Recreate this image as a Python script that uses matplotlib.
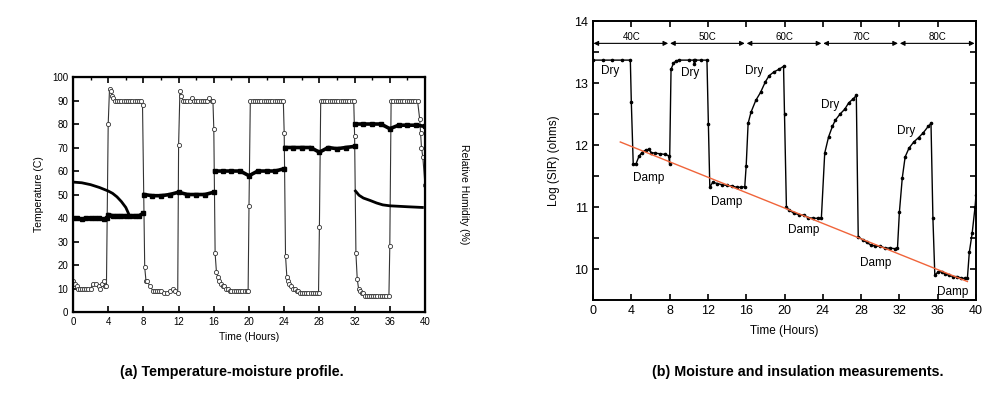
import numpy as np
import matplotlib.pyplot as plt

plt.rcParams['font.family'] = ['Liberation Sans', 'DejaVu Sans']

# ---- (a) temperature / humidity profile ----
hum_t = [0, 0.2, 0.4, 0.6, 0.8, 1.0, 1.25, 1.5, 1.75, 2.0, 2.3, 2.6, 2.9, 3.05, 3.35, 3.5, 3.6, 3.8,
         4.0, 4.15, 4.3, 4.45, 4.6, 4.8, 5.0, 5.25, 5.5, 5.75, 6.0, 6.25, 6.5, 6.75, 7.0, 7.25, 7.5, 7.75, 7.9,
         8.15, 8.3, 8.45, 8.75, 9.1, 9.3, 9.5, 9.75, 10.0, 10.3, 10.7, 11.0, 11.4, 11.6, 11.9,
         12.0, 12.15, 12.3, 12.5, 12.75, 13.0, 13.25, 13.5, 13.75, 14.0, 14.25, 14.5, 14.75, 15.0, 15.25, 15.5, 15.75, 15.9,
         16.0, 16.15, 16.3, 16.45, 16.6, 16.8, 17.0, 17.2, 17.4, 17.6, 17.8, 18.0, 18.25, 18.5, 18.75, 19.0, 19.25, 19.5, 19.75, 19.9,
         20.0, 20.15, 20.4, 20.65, 20.9, 21.15, 21.4, 21.65, 21.9, 22.15, 22.4, 22.65, 22.9, 23.15, 23.4, 23.65, 23.9,
         24.0, 24.15, 24.3, 24.45, 24.6, 24.8, 25.0, 25.2, 25.4, 25.6, 25.8, 26.0, 26.25, 26.5, 26.75, 27.0, 27.25, 27.5, 27.75, 27.9,
         28.0, 28.15, 28.4, 28.65, 28.9, 29.15, 29.4, 29.65, 29.9, 30.15, 30.4, 30.65, 30.9, 31.15, 31.4, 31.65, 31.9,
         32.0, 32.15, 32.3, 32.45, 32.6, 32.8, 33.0, 33.2, 33.4, 33.6, 33.85, 34.1, 34.35, 34.6, 34.85, 35.1, 35.35, 35.6, 35.9,
         36.0, 36.15, 36.4, 36.65, 36.9, 37.15, 37.4, 37.65, 37.9, 38.15, 38.4, 38.65, 38.9, 39.15, 39.4, 39.5, 39.6, 39.75, 40.0]
hum_v = [13, 12, 11, 10, 10, 10, 10, 10, 10, 10, 12, 12, 11, 10, 12, 13, 11, 11,
         80, 95, 94, 92, 91, 90, 90, 90, 90, 90, 90, 90, 90, 90, 90, 90, 90, 90, 88,
         19, 13, 13, 11, 9, 9, 9, 9, 9, 8, 8, 9, 10, 9, 8,
         71, 94, 92, 90, 90, 90, 90, 91, 90, 90, 90, 90, 90, 90, 90, 91, 90, 90,
         78, 25, 17, 15, 13, 12, 11, 11, 10, 10, 9, 9, 9, 9, 9, 9, 9, 9, 9, 9,
         45, 90, 90, 90, 90, 90, 90, 90, 90, 90, 90, 90, 90, 90, 90, 90, 90,
         76, 24, 15, 13, 12, 11, 10, 10, 9, 9, 8, 8, 8, 8, 8, 8, 8, 8, 8, 8,
         36, 90, 90, 90, 90, 90, 90, 90, 90, 90, 90, 90, 90, 90, 90, 90, 90,
         75, 25, 14, 10, 9, 8, 8, 7, 7, 7, 7, 7, 7, 7, 7, 7, 7, 7, 7,
         28, 90, 90, 90, 90, 90, 90, 90, 90, 90, 90, 90, 90, 90, 82, 76, 70, 66, 54]

temp_t = [0, 0.5, 1.0, 1.5, 2.0, 2.5, 3.0, 3.5, 3.9, 4.0, 4.5, 5.0, 5.5, 6.0, 6.5, 7.0, 7.5, 8.0, np.nan,
          8.1, 9.0, 10.0, 11.0, 12.0, 13.0, 14.0, 15.0, 16.0, np.nan,
          16.1, 17.0, 18.0, 19.0, 20.0, 21.0, 22.0, 23.0, 24.0, np.nan,
          24.1, 25.0, 26.0, 27.0, 28.0, 29.0, 30.0, 31.0, 32.0, np.nan,
          32.1, 33.0, 34.0, 35.0, 36.0, 37.0, 38.0, 39.0, 40.0]
temp_v = [40, 40, 39.5, 40, 40, 40, 40, 39.5, 40, 41.5, 41, 41, 41, 41, 41, 41, 41, 42, np.nan,
          50, 49.5, 49.5, 50, 51, 50, 50, 50, 51, np.nan,
          60, 60, 60, 60, 58, 60, 60, 60, 61, np.nan,
          70, 70, 70, 70, 68, 70, 69.5, 70, 70.5, np.nan,
          80, 80, 80, 80, 78, 79.5, 79.5, 79.5, 79]

dew1_t = [0, 1.0, 2.0, 3.0, 4.0, 4.5, 5.0, 5.5, 6.0, 6.3, 6.45]
dew1_v = [55.3, 55, 54.2, 53, 51.5, 50.5, 49, 47, 44.5, 42, 40.5]
dew2_t = [32.1, 32.5, 33.0, 33.75, 34.5, 35.2, 36.0, 37.0, 38.0, 39.7]
dew2_v = [51.5, 49.7, 48.5, 47.5, 46.4, 45.6, 45.2, 45.0, 44.8, 44.5]

# ---- (b) SIR measurement ----
sir_t = [0, 1, 2, 3, 3.9, 4.0, 4.2, 4.5, 4.8, 5.1, 5.5, 5.8, 6.1, 6.5, 7.0, 7.5, 7.9, 8.0,
         8.15, 8.4, 8.7, 9.0, 10.0, 10.5, 10.6, 10.7, 11.3, 11.9,
         12.05, 12.2, 12.5, 13.0, 13.5, 14.0, 14.5, 15.0, 15.5, 15.85,
         16.0, 16.2, 16.5, 17.0, 17.5, 18.0, 18.4, 18.9, 19.4, 19.9,
         20.0, 20.2, 20.5, 21.0, 21.5, 22.0, 22.5, 23.0, 23.5, 23.85,
         24.2, 24.6, 25.0, 25.3, 25.8, 26.3, 26.7, 27.2, 27.5,
         27.7, 28.2, 28.6, 29.0, 29.5, 30.0, 30.5, 31.0, 31.5, 31.8,
         32.0, 32.3, 32.6, 33.0, 33.5, 34.0, 34.5, 35.0, 35.3,
         35.5, 35.7, 36.0, 36.4, 36.8, 37.2, 37.6, 38.0, 38.4, 38.8, 39.1,
         39.3, 39.6, 39.9, 40.0]
sir_v = [13.37, 13.37, 13.37, 13.37, 13.37, 12.7, 11.7, 11.7, 11.82, 11.88, 11.92, 11.93, 11.88, 11.87, 11.86, 11.85, 11.83, 11.7,
         13.22, 13.32, 13.36, 13.37, 13.37, 13.37, 13.3, 13.37, 13.37, 13.37,
         12.34, 11.32, 11.4, 11.38, 11.36, 11.35, 11.34, 11.32, 11.32, 11.33,
         11.67, 12.35, 12.53, 12.72, 12.85, 13.02, 13.12, 13.18, 13.22, 13.27,
         12.5, 11.0, 10.95, 10.9, 10.88, 10.87, 10.83, 10.82, 10.82, 10.82,
         11.87, 12.13, 12.3, 12.4, 12.5, 12.58, 12.68, 12.75, 12.8,
         10.52, 10.47, 10.43, 10.39, 10.37, 10.37, 10.34, 10.34, 10.33, 10.34,
         10.92, 11.47, 11.81, 11.95, 12.05, 12.12, 12.2, 12.3, 12.35,
         10.82, 9.9, 9.95, 9.96, 9.92, 9.9, 9.88, 9.88, 9.86, 9.85, 9.85,
         10.27, 10.58, 11.0, 11.2]

fit_t = [2.85, 39.1]
fit_v = [12.05, 9.8]

stage_start = [0, 8, 16, 24, 32]
stage_label = ['40C', '50C', '60C', '70C', '80C']

dry_t = [0.8, 9.2, 15.9, 23.8, 31.8]
dry_v = [13.2, 13.16, 13.2, 12.65, 12.23]
damp_t = [4.2, 12.3, 20.4, 27.9, 35.9]
damp_v = [11.47, 11.08, 10.63, 10.1, 9.63]

fig = plt.figure(figsize=(10, 3.97), dpi=100)

ax1 = fig.add_axes([0.073, 0.214, 0.352, 0.592])
ax1.plot(hum_t, hum_v, color='#333333', lw=0.8, marker='o', ms=3, mfc='white', mec='#333333', mew=0.6)
ax1.plot(temp_t, temp_v, color='black', lw=2.6, marker='s', ms=2.5)
ax1.plot(dew1_t, dew1_v, color='black', lw=2)
ax1.plot(dew2_t, dew2_v, color='black', lw=2)
ax1.set_xlim(0, 40)
ax1.set_ylim(0, 100)
ax1.set_xticks(range(0, 41, 4))
ax1.set_xticks(range(0, 41, 2), minor=True)
ax1.set_yticks(range(0, 101, 10))
ax1.tick_params(direction='in', labelsize=7, length=4, width=1.2, top=True, right=True, labelright=True)
ax1.tick_params(which='minor', direction='in', length=2, width=1, top=True, bottom=False)
for s in ax1.spines.values():
    s.set_linewidth(1.6)
ax1.set_xlabel('Time (Hours)', fontsize=7.5, labelpad=4)
ax1.set_ylabel('Temperature (C)', fontsize=7.5, labelpad=6)
ax1r = ax1.twinx()
ax1r.set_ylim(0, 100)
ax1r.set_yticks([])
ax1r.set_ylabel('Relative Humidity (%)', fontsize=7.5, rotation=270, labelpad=32)

ax2 = fig.add_axes([0.593, 0.244, 0.383, 0.703])
ax2.plot(sir_t, sir_v, color='black', lw=1.0, marker='o', ms=1.6)
ax2.plot(fit_t, fit_v, color='#f0643a', lw=1.0)
for s0, lab in zip(stage_start, stage_label):
    ax2.annotate('', xy=(s0 + 0.05, 13.64), xytext=(s0 + 7.85, 13.64),
                 arrowprops=dict(arrowstyle='<|-|>', lw=0.8, color='black', mutation_scale=7,
                                 shrinkA=0, shrinkB=0))
    ax2.text(s0 + 4, 13.67, lab, ha='center', va='bottom', fontsize=7,
             bbox=dict(facecolor='white', edgecolor='none', pad=0.3))
for x, y in zip(dry_t, dry_v):
    ax2.text(x, y, 'Dry', fontsize=8.5, va='center')
for x, y in zip(damp_t, damp_v):
    ax2.text(x, y, 'Damp', fontsize=8.5, va='center', clip_on=False)
ax2.set_xlim(0, 40)
ax2.set_ylim(9.5, 14)
ax2.set_xticks(range(0, 41, 4))
ax2.set_yticks([10, 11, 12, 13, 14])
ax2.set_yticks(np.arange(9.5, 14.01, 0.5), minor=True)
ax2.tick_params(direction='in', labelsize=9, length=4, width=1.2, top=True, right=True)
ax2.tick_params(which='minor', direction='in', length=4, width=1.2, right=True)
for s in ax2.spines.values():
    s.set_linewidth(1.4)
ax2.set_xlabel('Time (Hours)', fontsize=8.5, labelpad=6)
ax2.set_ylabel('Log (SIR) (ohms)', fontsize=8.5, labelpad=10)

cap_font = ['Liberation Sans Narrow', 'Liberation Sans', 'DejaVu Sans']
fig.text(0.232, 0.063, '(a) Temperature-moisture profile.', ha='center', va='center',
         fontsize=10.3, fontweight='bold', family=cap_font)
fig.text(0.798, 0.063, '(b) Moisture and insulation measurements.', ha='center', va='center',
         fontsize=10.3, fontweight='bold', family=cap_font)

fig.savefig('out.png', dpi=100)
